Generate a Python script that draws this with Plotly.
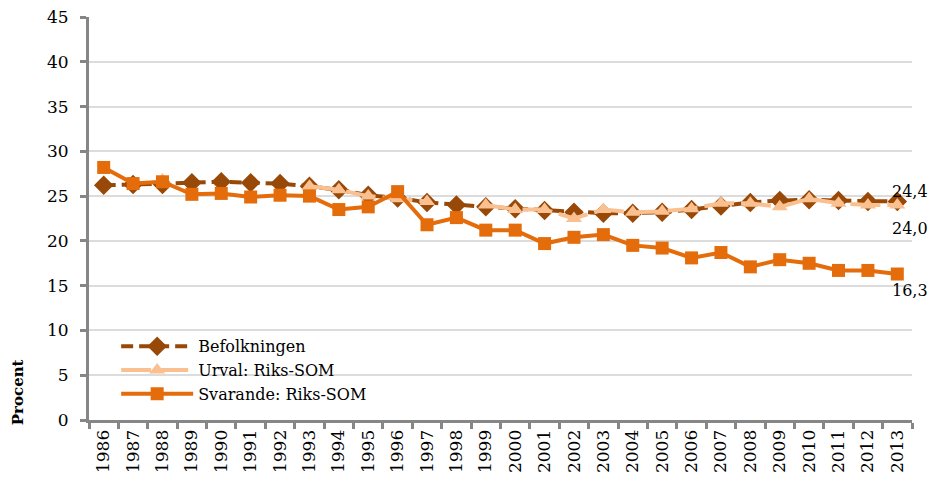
import plotly.graph_objects as go

years = [str(y) for y in range(1986, 2014)]

befolkningen = [26.2, 26.3, 26.3, 26.5, 26.6, 26.5, 26.4, 26.1, 25.7, 25.1, 24.8, 24.3, 24.0,
                23.8, 23.6, 23.4, 23.2, 23.1, 23.1, 23.2, 23.5, 23.9, 24.3, 24.5, 24.6, 24.5, 24.4, 24.4]
urval = [None, None, 26.8, None, None, None, None, 26.1, 25.7, 25.0, 24.7, 24.4, None,
         24.0, 23.5, 23.5, 22.5, 23.5, 23.2, 23.3, 23.6, 24.2, 24.2, 23.8, 24.7, 24.2, 24.0, 24.0]
svarande = [28.2, 26.4, 26.6, 25.2, 25.3, 24.9, 25.1, 25.0, 23.5, 23.8, 25.5, 21.8, 22.6,
            21.2, 21.2, 19.7, 20.4, 20.7, 19.5, 19.2, 18.1, 18.7, 17.1, 17.9, 17.5, 16.7, 16.7, 16.3]

series_names = ["Befolkningen", "Urval: Riks-SOM", "Svarande: Riks-SOM"]
end_labels = ["24,4", "24,0", "16,3"]
y_ticks = [0, 5, 10, 15, 20, 25, 30, 35, 40, 45]

FONT = "'DejaVu Serif', 'Liberation Serif', serif"
C_BEF = "#984807"
C_URV = "#FAC090"
C_SVA = "#E46C0A"

fig = go.Figure()
fig.add_trace(go.Scatter(
    x=years, y=befolkningen, name=series_names[0], mode="lines+markers",
    line=dict(color=C_BEF, width=4, dash="12px,6px"),
    marker=dict(symbol="diamond", size=15, color=C_BEF),
))
fig.add_trace(go.Scatter(
    x=years, y=urval, name=series_names[1], mode="lines+markers",
    line=dict(color=C_URV, width=4, dash="30px,7px"),
    marker=dict(symbol="triangle-up", size=14, color=C_URV),
))
fig.add_trace(go.Scatter(
    x=years, y=svarande, name=series_names[2], mode="lines+markers",
    line=dict(color=C_SVA, width=4),
    marker=dict(symbol="square", size=13, color=C_SVA),
))

last_idx = len(years) - 1
shifts = [10, -23, -16]
for val_series, lab, ys in zip([befolkningen, urval, svarande], end_labels, shifts):
    fig.add_annotation(x=last_idx, y=val_series[-1], xref="x", yref="y", text=lab,
                       showarrow=False, xanchor="left", yanchor="middle", borderpad=0,
                       xshift=-6, yshift=ys, font=dict(family=FONT, size=16, color="#000"))

fig.add_annotation(x=-0.087, y=0.07, xref="paper", yref="paper", text="<b>Procent</b>",
                   textangle=-90, showarrow=False, xanchor="center", yanchor="middle",
                   font=dict(family=FONT, size=15, color="#000"))

fig.update_layout(
    width=929, height=473,
    margin=dict(l=81, r=25, t=9, b=61, autoexpand=False),
    paper_bgcolor="white", plot_bgcolor="white",
    font=dict(family=FONT, size=17, color="#000"),
    showlegend=True,
    legend=dict(x=0.033, y=0.225, xanchor="left", yanchor="top",
                bgcolor="rgba(0,0,0,0)", font=dict(family=FONT, size=16),
                itemwidth=72, tracegroupgap=0),
)
fig.update_xaxes(
    type="category", categoryorder="array", categoryarray=years, automargin=False,
    tickangle=-90, tickfont=dict(family=FONT, size=17), ticklabeloverflow="allow",
    showline=True, linecolor="#868686", linewidth=3,
    ticks="outside", tickson="boundaries", ticklen=6, tickwidth=3, tickcolor="#868686",
    showgrid=False, range=[-0.5, len(years) - 0.5],
)
fig.update_yaxes(
    range=[0, 45], tickvals=y_ticks, tickfont=dict(family=FONT, size=17), automargin=False,
    ticklabeloverflow="allow", ticklabelstandoff=8,
    showline=True, linecolor="#868686", linewidth=3,
    ticks="outside", ticklen=6, tickwidth=3, tickcolor="#868686",
    showgrid=True, gridcolor="#DCDCDC", gridwidth=1.5, zeroline=False,
)

fig.write_html("out.html")
